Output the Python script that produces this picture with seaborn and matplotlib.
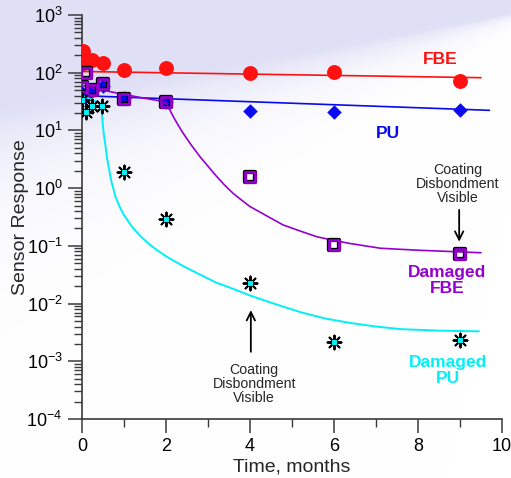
import numpy as np
import seaborn as sns
import matplotlib.pyplot as plt
import matplotlib.patheffects as pe
from matplotlib.ticker import LogLocator, MultipleLocator, NullFormatter

# ---- data (time in months, sensor response)

fbe_t = [0.02, 0.02, 0.23, 0.5, 1, 2, 4, 6, 9]
fbe_v = [235, 147, 166, 147, 113, 119, 100, 104, 73]
fbe_fit_t = [0, 9.5]
fbe_fit_v = [105, 82]

pu_t = [0.0, 0.1, 0.25, 0.5, 1, 2, 4, 6, 9]
pu_v = [45, 40, 50, 60, 37, 31, 22, 21, 23]
pu_fit_t = [0, 9.7]
pu_fit_v = [40, 22.3]

dfbe_t = [0.0, 0.1, 0.23, 0.5, 1, 2, 4, 6, 9]
dfbe_v = [57, 98, 51, 63, 35, 31, 1.54, 0.103, 0.072]
dfbe_fit_t = [0, 0.3, 0.67, 1.0, 1.5, 1.8, 2.0, 2.1, 2.2, 2.3, 2.41, 2.6, 2.81, 3.0,
              3.21, 3.4, 3.6, 3.8, 4.0, 4.4, 4.79, 5.2, 5.59, 6.0, 6.38, 7.1, 8.0, 9.5]
dfbe_fit_v = [60, 54, 47, 42, 36, 33, 30, 22, 16, 12, 8.9, 5.6, 3.5, 2.4,
              1.58, 1.12, 0.81, 0.62, 0.48, 0.33, 0.23, 0.18, 0.144, 0.124, 0.11, 0.091, 0.084, 0.076]

dpu_t = [0.0, 0.1, 0.23, 0.48, 1, 2, 4, 6, 9]
dpu_v = [34, 21, 27, 27, 1.92, 0.29, 0.023, 0.0022, 0.0023]
dpu_fit_t = [0.0, 0.2, 0.4, 0.46, 0.49, 0.52, 0.55, 0.6, 0.7, 0.8, 0.9, 1.0, 1.2, 1.4, 1.6,
             1.8, 2.0, 2.4, 2.8, 3.2, 3.6, 4.0, 4.6, 5.2, 5.8, 6.4, 7.0, 7.6, 8.5, 9.45]
dpu_fit_v = [40, 35, 30, 26, 14, 8.5, 6.0, 3.2, 1.3, 0.7, 0.47, 0.34, 0.21, 0.145, 0.107,
             0.083, 0.066, 0.045, 0.032, 0.023, 0.018, 0.0138, 0.0098, 0.0071, 0.0055,
             0.0046, 0.0040, 0.0036, 0.0034, 0.0033]

RED = "#ff1111"
BLUE = "#0a0aee"
PURPLE = "#9400d0"
CYAN = "#00f0f8"

sns.set_style("ticks")
plt.rcParams["font.family"] = ["Liberation Sans", "DejaVu Sans"]
plt.rcParams["mathtext.fontset"] = "custom"
plt.rcParams["mathtext.rm"] = "Liberation Sans"

W, H = 511, 478
fig = plt.figure(figsize=(W / 100, H / 100), dpi=100)

# lavender backdrop fading to white towards the lower right
xx, yy = np.meshgrid(np.arange(W), np.arange(H))
edge = 52 - 0.185 * (xx - 300)
width = 5 + 0.12 * (W - xx)
alpha = np.clip(np.exp(-(yy - edge) / width), 0, 1)
lav = np.array([0.875, 0.875, 0.965])
bg = 1 - alpha[..., None] * (1 - lav)
fig.figimage(bg, xo=0, yo=0, origin="upper", zorder=-1)

ax = fig.add_axes([82 / W, (H - 419) / H, 420 / W, 404 / H])
ax.set_facecolor("none")
ax.set_yscale("log")

# fits
sns.lineplot(x=fbe_fit_t, y=fbe_fit_v, ax=ax, color=RED, lw=1.2, estimator=None, sort=False, zorder=2)
sns.lineplot(x=pu_fit_t, y=pu_fit_v, ax=ax, color=BLUE, lw=1.2, estimator=None, sort=False, zorder=4)
sns.lineplot(x=dfbe_fit_t, y=dfbe_fit_v, ax=ax, color=PURPLE, lw=1.2, estimator=None, sort=False, zorder=6)
sns.lineplot(x=dpu_fit_t, y=dpu_fit_v, ax=ax, color=CYAN, lw=1.4, estimator=None, sort=False, zorder=8)

# measured points
sns.scatterplot(x=fbe_t, y=fbe_v, ax=ax, marker="o", s=115, color=RED, linewidth=0, zorder=3)
sns.scatterplot(x=pu_t, y=pu_v, ax=ax, marker="D", s=55, color=BLUE, linewidth=0, zorder=5)
sns.scatterplot(x=dfbe_t, y=dfbe_v, ax=ax, marker="s", s=50, color=PURPLE, facecolor="none",
                edgecolor=PURPLE, linewidth=2.0, zorder=7,
                path_effects=[pe.Stroke(linewidth=3.1, foreground="black"), pe.Normal()])
sns.scatterplot(x=dpu_t, y=dpu_v, ax=ax, marker=(8, 2, 0), s=100, color="black", linewidth=1.4, zorder=9)
sns.scatterplot(x=dpu_t, y=dpu_v, ax=ax, marker="s", s=20, color=CYAN, edgecolor="black",
                linewidth=0.6, zorder=10)

ax.set_xlim(0, 10)
ax.set_ylim(1e-4, 1e3)
ax.xaxis.set_major_locator(MultipleLocator(2))
ax.xaxis.set_minor_locator(MultipleLocator(1))
ax.yaxis.set_major_locator(LogLocator(base=10, numticks=20))
ax.yaxis.set_minor_locator(LogLocator(base=10, subs=np.arange(2, 10), numticks=100))
ax.yaxis.set_minor_formatter(NullFormatter())

for side in ["top", "right"]:
    ax.spines[side].set_visible(False)
for side in ["left", "bottom"]:
    ax.spines[side].set_color("#3a3a3a")
    ax.spines[side].set_linewidth(1.2)

ax.tick_params(which="major", length=10, width=1.1, colors="#3a3a3a", labelcolor="black",
               labelsize=13, pad=4)
ax.tick_params(which="minor", length=5.5, width=1.0, colors="#3a3a3a")

ax.set_xlabel("Time, months", fontsize=14, labelpad=2)
ax.set_ylabel("Sensor Response", fontsize=14, labelpad=-2)

# series names
ax.text(8.52, 169, "FBE", color=RED, fontsize=12.5, fontweight="bold", ha="center", va="center")
ax.text(7.29, 8.8, "PU", color=BLUE, fontsize=12.5, fontweight="bold", ha="center", va="center")
ax.text(8.69, 0.025, "Damaged\nFBE", color=PURPLE, fontsize=12.5, fontweight="bold",
        ha="center", va="center", linespacing=1.05)
ax.text(8.71, 7.0e-4, "Damaged\nPU", color=CYAN, fontsize=12.5, fontweight="bold",
        ha="center", va="center", linespacing=1.05)

# disbondment notes
note = "Coating\nDisbondment\nVisible"
arrow = dict(arrowstyle="->,head_length=0.6,head_width=0.3", lw=1.3, color="black",
             shrinkA=0, shrinkB=0)
ax.text(8.95, 1.18, note, fontsize=10.2, ha="center", va="center", linespacing=1.0)
ax.annotate("", xy=(8.98, 0.118), xytext=(8.98, 0.42), arrowprops=arrow)
ax.text(4.1, 4.0e-4, note, fontsize=10.2, ha="center", va="center", linespacing=1.0)
ax.annotate("", xy=(4.02, 0.0077), xytext=(4.02, 0.00146), arrowprops=arrow)

fig.savefig("out.png", dpi=100)
